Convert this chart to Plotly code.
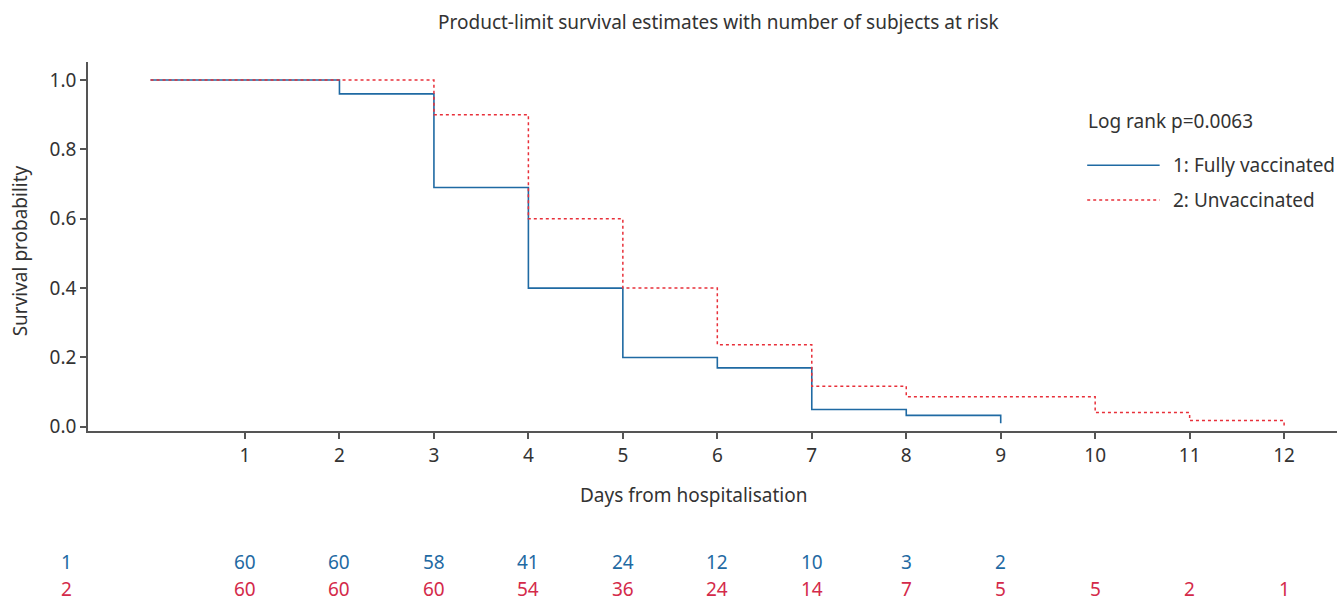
import plotly.graph_objects as go

# Data
days_vacc = [0, 2, 3, 4, 5, 6, 7, 8, 9]
surv_vacc = [1.0, 0.96, 0.69, 0.40, 0.20, 0.17, 0.05, 0.033, 0.01]
days_unvacc = [0, 3, 4, 5, 6, 7, 8, 10, 11, 12]
surv_unvacc = [1.0, 0.90, 0.60, 0.40, 0.237, 0.117, 0.087, 0.041, 0.018, 0.0]
end_vacc = 9
end_unvacc = 12

risk_days = [1, 2, 3, 4, 5, 6, 7, 8, 9, 10, 11, 12]
risk_vacc = [60, 60, 58, 41, 24, 12, 10, 3, 2, None, None, None]
risk_unvacc = [60, 60, 60, 54, 36, 24, 14, 7, 5, 5, 2, 1]
x_ticks = [1, 2, 3, 4, 5, 6, 7, 8, 9, 10, 11, 12]
y_ticks = [0.0, 0.2, 0.4, 0.6, 0.8, 1.0]

BLUE = "#1f6aa3"
RED = "#e8303a"
RISK_RED = "#d42a4a"
TXT = "#333333"
FONT = "Noto Sans"
FS = 19

fig = go.Figure()
fig.add_trace(go.Scatter(x=days_vacc + [end_vacc], y=surv_vacc + [surv_vacc[-1]],
                         mode="lines", line=dict(shape="hv", color=BLUE, width=1.6),
                         name="1: Fully vaccinated", showlegend=False))
fig.add_trace(go.Scatter(x=days_unvacc + [end_unvacc], y=surv_unvacc + [surv_unvacc[-1]],
                         mode="lines", line=dict(shape="hv", color=RED, width=1.5, dash="dot"),
                         name="2: Unvaccinated", showlegend=False))

def txt(text, x, y, xref="paper", xanchor="center", color=TXT, angle=0):
    return dict(text=text, xref=xref, yref="paper", x=x, y=y, xanchor=xanchor,
                yanchor="middle", showarrow=False, textangle=angle, borderpad=0,
                font=dict(size=FS, color=color, family=FONT))

ann = []
ann.append(txt("Product-limit survival estimates with number of subjects at risk", 0.505, 1.108))
ann.append(txt("Days from hospitalisation", 5.75, -0.173, xref="x"))
ann.append(txt("Survival probability", -0.0544, 0.487, angle=-90))
ann.append(txt("Log rank p=0.0063", 0.8, 0.841, xanchor="left"))
ann.append(txt("1: Fully vaccinated", 0.868, 0.72, xanchor="left"))
ann.append(txt("2: Unvaccinated", 0.868, 0.626, xanchor="left"))

row1_y = -0.355
row2_y = -0.427
ann.append(txt("1", -0.0176, row1_y, color=BLUE))
ann.append(txt("2", -0.0176, row2_y, color=RISK_RED))
for d, a, b in zip(risk_days, risk_vacc, risk_unvacc):
    if a is not None:
        ann.append(txt(str(a), d, row1_y, xref="x", color=BLUE))
    if b is not None:
        ann.append(txt(str(b), d, row2_y, xref="x", color=RISK_RED))

shapes = [
    dict(type="line", xref="paper", yref="paper", x0=0.80, x1=0.858, y0=0.72, y1=0.72,
         line=dict(color=BLUE, width=1.6)),
    dict(type="line", xref="paper", yref="paper", x0=0.80, x1=0.858, y0=0.626, y1=0.626,
         line=dict(color=RED, width=1.3, dash="dot")),
]

fig.update_layout(
    width=1337, height=602,
    margin=dict(l=88, r=0, t=62, b=171),
    plot_bgcolor="white", paper_bgcolor="white",
    font=dict(family=FONT, size=FS, color=TXT),
    annotations=ann, shapes=shapes, showlegend=False,
    xaxis=dict(range=[-0.662, 12.56], tickvals=x_ticks, ticktext=[str(t) for t in x_ticks],
               showgrid=False, zeroline=False, showline=True, linecolor="#555555", linewidth=1.5,
               ticks="outside", ticklen=6, tickcolor="#555555", tickwidth=1.5,
               tickfont=dict(size=FS, color=TXT, family=FONT)),
    yaxis=dict(range=[-0.012, 1.052], tickvals=y_ticks, ticktext=[f"{v:.1f}" for v in y_ticks],
               showgrid=False, zeroline=False, showline=True, linecolor="#555555", linewidth=1.5,
               ticks="outside", ticklen=6, tickcolor="#555555", tickwidth=1.5,
               tickfont=dict(size=FS, color=TXT, family=FONT)),
)

fig.write_html("out.html", config={"displayModeBar": False},
               post_script="document.body.style.margin='0';document.body.style.overflow='hidden';")
